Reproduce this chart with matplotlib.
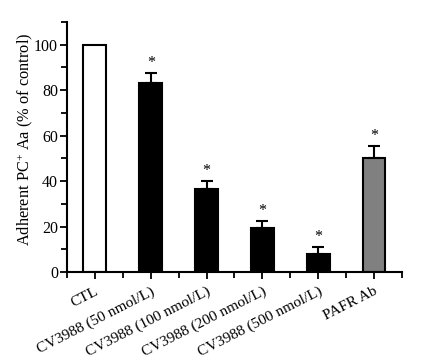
import matplotlib
matplotlib.use("Agg")
import matplotlib.pyplot as plt
from matplotlib.ticker import MultipleLocator

plt.rcParams['font.family'] = ['Liberation Serif', 'DejaVu Serif']
plt.rcParams['mathtext.fontset'] = 'custom'
plt.rcParams['mathtext.rm'] = 'Liberation Serif'
plt.rcParams['mathtext.it'] = 'Liberation Serif:italic'
plt.rcParams['mathtext.bf'] = 'Liberation Serif:bold'

categories = ["CTL", "CV3988 (50 nmol/L)", "CV3988 (100 nmol/L)",
              "CV3988 (200 nmol/L)", "CV3988 (500 nmol/L)", "PAFR Ab"]
values = [100, 83, 36.4, 19.2, 7.9, 50]
errors = [0, 4.4, 3.5, 3.3, 3.2, 5.4]
significant = [False, True, True, True, True, True]
facecolors = ["white", "black", "black", "black", "black", "#808080"]

fig = plt.figure(figsize=(4.24, 3.6), dpi=100)
ax = fig.add_axes([0.158, 0.244, 0.79, 0.695])

x = list(range(len(categories)))
ax.bar(x, values, width=0.41, color=facecolors, edgecolor="black", linewidth=1.5, zorder=2)
for xi, v, e in zip(x, values, errors):
    if e > 0:
        ax.errorbar(xi, v, yerr=[[0], [e]], fmt="none", ecolor="black",
                    elinewidth=1.5, capsize=4, capthick=1.5, zorder=3)
for xi, v, e, s in zip(x, values, errors, significant):
    if s:
        ax.text(xi, v + e + 4.5, "*", ha="center", va="center", fontsize=11.5)

ax.set_xlim(-0.5, 5.5)
ax.set_ylim(0, 110)
ax.spines['top'].set_visible(False)
ax.spines['right'].set_visible(False)
ax.spines['left'].set_linewidth(1.5)
ax.spines['bottom'].set_linewidth(1.5)

ax.yaxis.set_major_locator(MultipleLocator(20))
ax.yaxis.set_minor_locator(MultipleLocator(10))
ax.set_xticks(x)
ax.set_xticks([i - 0.5 for i in range(len(categories) + 1)], minor=True)
ax.set_xticklabels(categories, rotation=27, ha="right", rotation_mode="anchor", fontsize=11)
ax.tick_params(axis='both', which='major', direction='out', length=5, width=1.3)
ax.tick_params(axis='y', which='major', labelsize=11.5, pad=1.5)
ax.tick_params(axis='both', which='minor', direction='out', length=4, width=1.3)
ax.tick_params(axis='x', which='major', pad=4)

ax.set_ylabel(r"Adherent PC$^{+}$ Aa (% of control)", fontsize=11.8)
ax.yaxis.set_label_coords(-0.095, 0.53)

fig.savefig("out.png", dpi=100)
